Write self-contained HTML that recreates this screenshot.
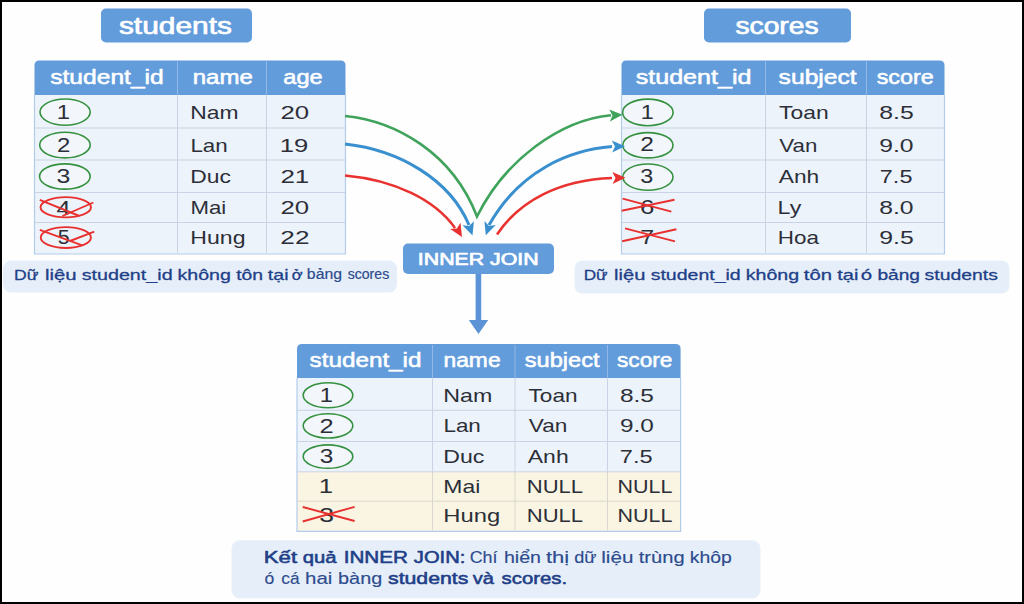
<!DOCTYPE html>
<html><head><meta charset="utf-8"><title>INNER JOIN</title>
<style>
html,body{margin:0;padding:0;background:#fff;}
svg{display:block;font-family:"Liberation Sans",sans-serif;}
</style></head>
<body>
<svg width="1024" height="604" viewBox="0 0 1024 604">
<rect x="0" y="0" width="1024" height="604" rx="0" fill="#000"/>
<rect x="2" y="2" width="1020" height="600" rx="0" fill="#fefefe"/>
<rect x="34.5" y="95" width="311.0" height="33" rx="0" fill="#edf3fb"/>
<rect x="34.5" y="128" width="311.0" height="32" rx="0" fill="#edf3fb"/>
<rect x="34.5" y="160" width="311.0" height="32.5" rx="0" fill="#edf3fb"/>
<rect x="34.5" y="192.5" width="311.0" height="30.0" rx="0" fill="#edf3fb"/>
<rect x="34.5" y="222.5" width="311.0" height="31.5" rx="0" fill="#edf3fb"/>
<path d="M34.5,95 L34.5,65.5 Q34.5,60.5 39.5,60.5 L340.5,60.5 Q345.5,60.5 345.5,65.5 L345.5,95 Z" fill="#639cdb"/>
<line x1="34.5" y1="128" x2="345.5" y2="128" stroke="#c9d3e3" stroke-width="1"/>
<line x1="34.5" y1="160" x2="345.5" y2="160" stroke="#c9d3e3" stroke-width="1"/>
<line x1="34.5" y1="192.5" x2="345.5" y2="192.5" stroke="#c9d3e3" stroke-width="1"/>
<line x1="34.5" y1="222.5" x2="345.5" y2="222.5" stroke="#c9d3e3" stroke-width="1"/>
<line x1="177.5" y1="61.5" x2="177.5" y2="95" stroke="#93b7e6" stroke-width="1"/>
<line x1="177.5" y1="95" x2="177.5" y2="253" stroke="#c9d3e3" stroke-width="1"/>
<line x1="266.5" y1="61.5" x2="266.5" y2="95" stroke="#93b7e6" stroke-width="1"/>
<line x1="266.5" y1="95" x2="266.5" y2="253" stroke="#c9d3e3" stroke-width="1"/>
<path d="M34.5,95 L34.5,254 L345.5,254 L345.5,95" fill="none" stroke="#b4cbe9" stroke-width="1.2"/>
<rect x="621.5" y="95" width="323.0" height="33" rx="0" fill="#edf3fb"/>
<rect x="621.5" y="128" width="323.0" height="32" rx="0" fill="#edf3fb"/>
<rect x="621.5" y="160" width="323.0" height="32.5" rx="0" fill="#edf3fb"/>
<rect x="621.5" y="192.5" width="323.0" height="30.0" rx="0" fill="#edf3fb"/>
<rect x="621.5" y="222.5" width="323.0" height="31.5" rx="0" fill="#edf3fb"/>
<path d="M621.5,95 L621.5,65.5 Q621.5,60.5 626.5,60.5 L939.5,60.5 Q944.5,60.5 944.5,65.5 L944.5,95 Z" fill="#639cdb"/>
<line x1="621.5" y1="128" x2="944.5" y2="128" stroke="#c9d3e3" stroke-width="1"/>
<line x1="621.5" y1="160" x2="944.5" y2="160" stroke="#c9d3e3" stroke-width="1"/>
<line x1="621.5" y1="192.5" x2="944.5" y2="192.5" stroke="#c9d3e3" stroke-width="1"/>
<line x1="621.5" y1="222.5" x2="944.5" y2="222.5" stroke="#c9d3e3" stroke-width="1"/>
<line x1="765.5" y1="61.5" x2="765.5" y2="95" stroke="#93b7e6" stroke-width="1"/>
<line x1="765.5" y1="95" x2="765.5" y2="253" stroke="#c9d3e3" stroke-width="1"/>
<line x1="866.5" y1="61.5" x2="866.5" y2="95" stroke="#93b7e6" stroke-width="1"/>
<line x1="866.5" y1="95" x2="866.5" y2="253" stroke="#c9d3e3" stroke-width="1"/>
<path d="M621.5,95 L621.5,254 L944.5,254 L944.5,95" fill="none" stroke="#b4cbe9" stroke-width="1.2"/>
<rect x="297" y="378" width="383.6" height="32.30000000000001" rx="0" fill="#edf3fb"/>
<rect x="297" y="410.3" width="383.6" height="31.19999999999999" rx="0" fill="#edf3fb"/>
<rect x="297" y="441.5" width="383.6" height="30.30000000000001" rx="0" fill="#edf3fb"/>
<rect x="297" y="471.8" width="383.6" height="29.399999999999977" rx="0" fill="#faf5e3"/>
<rect x="297" y="501.2" width="383.6" height="30.099999999999966" rx="0" fill="#faf5e3"/>
<path d="M297,378 L297,349 Q297,344 302,344 L675.6,344 Q680.6,344 680.6,349 L680.6,378 Z" fill="#639cdb"/>
<line x1="297" y1="410.3" x2="680.6" y2="410.3" stroke="#c9d3e3" stroke-width="1"/>
<line x1="297" y1="441.5" x2="680.6" y2="441.5" stroke="#c9d3e3" stroke-width="1"/>
<line x1="297" y1="471.8" x2="680.6" y2="471.8" stroke="#c9d3e3" stroke-width="1"/>
<line x1="297" y1="501.2" x2="680.6" y2="501.2" stroke="#d9d8cf" stroke-width="1"/>
<line x1="432.5" y1="345" x2="432.5" y2="378" stroke="#93b7e6" stroke-width="1"/>
<line x1="432.5" y1="378" x2="432.5" y2="471.8" stroke="#c9d3e3" stroke-width="1"/>
<line x1="432.5" y1="471.8" x2="432.5" y2="530.3" stroke="#d9d8cf" stroke-width="1"/>
<line x1="515" y1="345" x2="515" y2="378" stroke="#93b7e6" stroke-width="1"/>
<line x1="515" y1="378" x2="515" y2="471.8" stroke="#c9d3e3" stroke-width="1"/>
<line x1="515" y1="471.8" x2="515" y2="530.3" stroke="#d9d8cf" stroke-width="1"/>
<line x1="607.5" y1="345" x2="607.5" y2="378" stroke="#93b7e6" stroke-width="1"/>
<line x1="607.5" y1="378" x2="607.5" y2="471.8" stroke="#c9d3e3" stroke-width="1"/>
<line x1="607.5" y1="471.8" x2="607.5" y2="530.3" stroke="#d9d8cf" stroke-width="1"/>
<path d="M297,378 L297,531.3 L680.6,531.3 L680.6,378" fill="none" stroke="#b4cbe9" stroke-width="1.2"/>
<rect x="101" y="8.5" width="151" height="34" rx="5" fill="#639cdb"/>
<rect x="704" y="8.5" width="147" height="34" rx="5" fill="#639cdb"/>
<rect x="403" y="243.5" width="151" height="30.5" rx="5" fill="#639cdb"/>
<rect x="3" y="260.6" width="394" height="32" rx="8" fill="#e6eff9"/>
<rect x="574.5" y="260.5" width="435" height="33" rx="8" fill="#e6eff9"/>
<rect x="231.5" y="540.3" width="529" height="58" rx="8" fill="#e6eff9"/>
<text x="118.95" y="33.80" font-size="23.6" font-weight="normal" fill="#ffffff" textLength="112.95" lengthAdjust="spacingAndGlyphs" stroke="#ffffff" stroke-width="0.7" stroke-linejoin="round">students</text>
<text x="735.40" y="33.80" font-size="24.5" font-weight="normal" fill="#ffffff" textLength="83.25" lengthAdjust="spacingAndGlyphs" stroke="#ffffff" stroke-width="0.7" stroke-linejoin="round">scores</text>
<text x="417.83" y="265.20" font-size="16.8" font-weight="normal" fill="#ffffff" textLength="120.77" lengthAdjust="spacingAndGlyphs" stroke="#ffffff" stroke-width="0.7" stroke-linejoin="round">INNER JOIN</text>
<text x="50.24" y="83.90" font-size="20.5" font-weight="normal" fill="#ffffff" textLength="113.48" lengthAdjust="spacingAndGlyphs" stroke="#ffffff" stroke-width="0.55" stroke-linejoin="round">student_id</text>
<text x="192.71" y="84.00" font-size="20.5" font-weight="normal" fill="#ffffff" textLength="60.13" lengthAdjust="spacingAndGlyphs" stroke="#ffffff" stroke-width="0.55" stroke-linejoin="round">name</text>
<text x="283.33" y="84.00" font-size="20.5" font-weight="normal" fill="#ffffff" textLength="39.34" lengthAdjust="spacingAndGlyphs" stroke="#ffffff" stroke-width="0.55" stroke-linejoin="round">age</text>
<text x="635.72" y="84.00" font-size="20.5" font-weight="normal" fill="#ffffff" textLength="115.73" lengthAdjust="spacingAndGlyphs" stroke="#ffffff" stroke-width="0.55" stroke-linejoin="round">student_id</text>
<text x="778.64" y="84.00" font-size="20.5" font-weight="normal" fill="#ffffff" textLength="78.10" lengthAdjust="spacingAndGlyphs" stroke="#ffffff" stroke-width="0.55" stroke-linejoin="round">subject</text>
<text x="876.68" y="84.00" font-size="20.5" font-weight="normal" fill="#ffffff" textLength="57.01" lengthAdjust="spacingAndGlyphs" stroke="#ffffff" stroke-width="0.55" stroke-linejoin="round">score</text>
<text x="309.55" y="366.60" font-size="20.5" font-weight="normal" fill="#ffffff" textLength="111.95" lengthAdjust="spacingAndGlyphs" stroke="#ffffff" stroke-width="0.55" stroke-linejoin="round">student_id</text>
<text x="443.49" y="366.60" font-size="20.5" font-weight="normal" fill="#ffffff" textLength="57.10" lengthAdjust="spacingAndGlyphs" stroke="#ffffff" stroke-width="0.55" stroke-linejoin="round">name</text>
<text x="524.77" y="366.60" font-size="20.5" font-weight="normal" fill="#ffffff" textLength="74.76" lengthAdjust="spacingAndGlyphs" stroke="#ffffff" stroke-width="0.55" stroke-linejoin="round">subject</text>
<text x="616.99" y="366.60" font-size="20.5" font-weight="normal" fill="#ffffff" textLength="55.46" lengthAdjust="spacingAndGlyphs" stroke="#ffffff" stroke-width="0.55" stroke-linejoin="round">score</text>
<text x="190.37" y="118.80" font-size="19" font-weight="normal" fill="#2c2f38" textLength="48.23" lengthAdjust="spacingAndGlyphs">Nam</text>
<text x="190.41" y="151.60" font-size="19" font-weight="normal" fill="#2c2f38" textLength="37.32" lengthAdjust="spacingAndGlyphs">Lan</text>
<text x="190.37" y="183.20" font-size="19" font-weight="normal" fill="#2c2f38" textLength="40.66" lengthAdjust="spacingAndGlyphs">Duc</text>
<text x="190.43" y="214.20" font-size="19" font-weight="normal" fill="#2c2f38" textLength="35.75" lengthAdjust="spacingAndGlyphs">Mai</text>
<text x="190.35" y="244.20" font-size="19" font-weight="normal" fill="#2c2f38" textLength="55.16" lengthAdjust="spacingAndGlyphs">Hung</text>
<text x="280.41" y="118.80" font-size="19" font-weight="normal" fill="#2c2f38" textLength="28.65" lengthAdjust="spacingAndGlyphs">20</text>
<text x="279.78" y="151.60" font-size="19" font-weight="normal" fill="#2c2f38" textLength="28.43" lengthAdjust="spacingAndGlyphs">19</text>
<text x="280.40" y="183.20" font-size="19" font-weight="normal" fill="#2c2f38" textLength="28.93" lengthAdjust="spacingAndGlyphs">21</text>
<text x="280.41" y="214.20" font-size="19" font-weight="normal" fill="#2c2f38" textLength="28.65" lengthAdjust="spacingAndGlyphs">20</text>
<text x="280.39" y="244.20" font-size="19" font-weight="normal" fill="#2c2f38" textLength="29.08" lengthAdjust="spacingAndGlyphs">22</text>
<text x="779.04" y="119.30" font-size="19" font-weight="normal" fill="#2c2f38" textLength="49.63" lengthAdjust="spacingAndGlyphs">Toan</text>
<text x="779.39" y="151.60" font-size="19" font-weight="normal" fill="#2c2f38" textLength="38.07" lengthAdjust="spacingAndGlyphs">Van</text>
<text x="778.80" y="183.20" font-size="19" font-weight="normal" fill="#2c2f38" textLength="40.46" lengthAdjust="spacingAndGlyphs">Anh</text>
<text x="777.64" y="213.60" font-size="19" font-weight="normal" fill="#2c2f38" textLength="23.63" lengthAdjust="spacingAndGlyphs">Ly</text>
<text x="777.70" y="243.50" font-size="19" font-weight="normal" fill="#2c2f38" textLength="41.19" lengthAdjust="spacingAndGlyphs">Hoa</text>
<text x="879.29" y="119.30" font-size="19" font-weight="normal" fill="#2c2f38" textLength="34.41" lengthAdjust="spacingAndGlyphs">8.5</text>
<text x="879.29" y="151.60" font-size="19" font-weight="normal" fill="#2c2f38" textLength="34.28" lengthAdjust="spacingAndGlyphs">9.0</text>
<text x="879.83" y="183.20" font-size="19" font-weight="normal" fill="#2c2f38" textLength="32.62" lengthAdjust="spacingAndGlyphs">7.5</text>
<text x="879.29" y="213.60" font-size="19" font-weight="normal" fill="#2c2f38" textLength="34.28" lengthAdjust="spacingAndGlyphs">8.0</text>
<text x="879.29" y="243.50" font-size="19" font-weight="normal" fill="#2c2f38" textLength="34.41" lengthAdjust="spacingAndGlyphs">9.5</text>
<text x="443.34" y="401.70" font-size="19" font-weight="normal" fill="#2c2f38" textLength="48.98" lengthAdjust="spacingAndGlyphs">Nam</text>
<text x="443.41" y="432.20" font-size="19" font-weight="normal" fill="#2c2f38" textLength="37.43" lengthAdjust="spacingAndGlyphs">Lan</text>
<text x="443.35" y="462.80" font-size="19" font-weight="normal" fill="#2c2f38" textLength="41.09" lengthAdjust="spacingAndGlyphs">Duc</text>
<text x="443.37" y="493.40" font-size="19" font-weight="normal" fill="#2c2f38" textLength="36.96" lengthAdjust="spacingAndGlyphs">Mai</text>
<text x="443.30" y="522.10" font-size="19" font-weight="normal" fill="#2c2f38" textLength="56.87" lengthAdjust="spacingAndGlyphs">Hung</text>
<text x="528.55" y="401.70" font-size="19" font-weight="normal" fill="#2c2f38" textLength="49.00" lengthAdjust="spacingAndGlyphs">Toan</text>
<text x="528.89" y="432.20" font-size="19" font-weight="normal" fill="#2c2f38" textLength="38.59" lengthAdjust="spacingAndGlyphs">Van</text>
<text x="527.80" y="462.80" font-size="19" font-weight="normal" fill="#2c2f38" textLength="40.88" lengthAdjust="spacingAndGlyphs">Anh</text>
<text x="526.74" y="493.40" font-size="19" font-weight="normal" fill="#2c2f38" textLength="56.36" lengthAdjust="spacingAndGlyphs">NULL</text>
<text x="526.74" y="522.10" font-size="19" font-weight="normal" fill="#2c2f38" textLength="56.36" lengthAdjust="spacingAndGlyphs">NULL</text>
<text x="619.90" y="401.70" font-size="19" font-weight="normal" fill="#2c2f38" textLength="33.98" lengthAdjust="spacingAndGlyphs">8.5</text>
<text x="619.90" y="432.20" font-size="19" font-weight="normal" fill="#2c2f38" textLength="33.85" lengthAdjust="spacingAndGlyphs">9.0</text>
<text x="619.82" y="462.80" font-size="19" font-weight="normal" fill="#2c2f38" textLength="32.83" lengthAdjust="spacingAndGlyphs">7.5</text>
<text x="617.48" y="493.40" font-size="19" font-weight="normal" fill="#2c2f38" textLength="54.90" lengthAdjust="spacingAndGlyphs">NULL</text>
<text x="617.48" y="522.10" font-size="19" font-weight="normal" fill="#2c2f38" textLength="54.90" lengthAdjust="spacingAndGlyphs">NULL</text>
<ellipse cx="65.1" cy="112.1" rx="25.1" ry="13.1" fill="#f3f7fb" stroke="#35913f" stroke-width="1.6"/>
<ellipse cx="64.95" cy="145.1" rx="25.25" ry="12.8" fill="#f3f7fb" stroke="#35913f" stroke-width="1.6"/>
<ellipse cx="64.85" cy="176.5" rx="25.3" ry="12.6" fill="#f3f7fb" stroke="#35913f" stroke-width="1.6"/>
<ellipse cx="647.85" cy="112.4" rx="25.25" ry="13.3" fill="#f3f7fb" stroke="#35913f" stroke-width="1.6"/>
<ellipse cx="647.9" cy="145.25" rx="25.1" ry="12.65" fill="#f3f7fb" stroke="#35913f" stroke-width="1.6"/>
<ellipse cx="647.9" cy="177.1" rx="25.1" ry="13.1" fill="#f3f7fb" stroke="#35913f" stroke-width="1.6"/>
<ellipse cx="328" cy="395.3" rx="24.8" ry="12.5" fill="#f3f7fb" stroke="#35913f" stroke-width="1.6"/>
<ellipse cx="328" cy="425.85" rx="24.8" ry="12.15" fill="#f3f7fb" stroke="#35913f" stroke-width="1.6"/>
<ellipse cx="328" cy="456.6" rx="24.8" ry="11.7" fill="#f3f7fb" stroke="#35913f" stroke-width="1.6"/>
<text x="56.81" y="118.80" font-size="19.5" font-weight="normal" fill="#2c2f38" textLength="13.30" lengthAdjust="spacingAndGlyphs">1</text>
<text x="56.90" y="151.50" font-size="19.5" font-weight="normal" fill="#2c2f38" textLength="13.32" lengthAdjust="spacingAndGlyphs">2</text>
<text x="56.61" y="183.30" font-size="19.5" font-weight="normal" fill="#2c2f38" textLength="13.82" lengthAdjust="spacingAndGlyphs">3</text>
<text x="56.59" y="214.60" font-size="19.5" font-weight="normal" fill="#2c2f38" textLength="14.10" lengthAdjust="spacingAndGlyphs">4</text>
<text x="57.74" y="244.30" font-size="19.5" font-weight="normal" fill="#2c2f38" textLength="11.94" lengthAdjust="spacingAndGlyphs">5</text>
<text x="640.84" y="119.10" font-size="19.5" font-weight="normal" fill="#2c2f38" textLength="13.04" lengthAdjust="spacingAndGlyphs">1</text>
<text x="640.27" y="151.30" font-size="19.5" font-weight="normal" fill="#2c2f38" textLength="13.69" lengthAdjust="spacingAndGlyphs">2</text>
<text x="640.27" y="182.70" font-size="19.5" font-weight="normal" fill="#2c2f38" textLength="13.00" lengthAdjust="spacingAndGlyphs">3</text>
<text x="639.91" y="213.90" font-size="19.5" font-weight="normal" fill="#2c2f38" textLength="14.35" lengthAdjust="spacingAndGlyphs">6</text>
<text x="640.35" y="243.60" font-size="19.5" font-weight="normal" fill="#2c2f38" textLength="13.93" lengthAdjust="spacingAndGlyphs">7</text>
<text x="319.72" y="401.50" font-size="19.5" font-weight="normal" fill="#2c2f38" textLength="13.17" lengthAdjust="spacingAndGlyphs">1</text>
<text x="319.43" y="432.50" font-size="19.5" font-weight="normal" fill="#2c2f38" textLength="14.18" lengthAdjust="spacingAndGlyphs">2</text>
<text x="319.72" y="462.70" font-size="19.5" font-weight="normal" fill="#2c2f38" textLength="13.58" lengthAdjust="spacingAndGlyphs">3</text>
<text x="318.87" y="493.20" font-size="19.5" font-weight="normal" fill="#2c2f38" textLength="14.32" lengthAdjust="spacingAndGlyphs">1</text>
<text x="319.34" y="521.50" font-size="19.5" font-weight="normal" fill="#2c2f38" textLength="14.75" lengthAdjust="spacingAndGlyphs">3</text>
<ellipse cx="65.75" cy="207.25" rx="25.2" ry="10.1" fill="none" stroke="#e8312f" stroke-width="1.9"/>
<line x1="39.8" y1="199.9" x2="79.4" y2="216" stroke="#e8312f" stroke-width="1.9"/>
<line x1="62.4" y1="216" x2="93.4" y2="202.5" stroke="#e8312f" stroke-width="1.9"/>
<ellipse cx="65.85" cy="237.55" rx="25.1" ry="10.4" fill="none" stroke="#e8312f" stroke-width="1.9"/>
<line x1="39.8" y1="229.9" x2="82.3" y2="245.4" stroke="#e8312f" stroke-width="1.9"/>
<line x1="70" y1="241" x2="94.3" y2="231.7" stroke="#e8312f" stroke-width="1.9"/>
<line x1="622.6" y1="198.6" x2="671.3" y2="211.6" stroke="#e8312f" stroke-width="1.9"/>
<line x1="621.7" y1="210.7" x2="674.5" y2="199.7" stroke="#e8312f" stroke-width="1.9"/>
<line x1="625" y1="228.3" x2="675" y2="241.3" stroke="#e8312f" stroke-width="1.9"/>
<line x1="622.2" y1="241.3" x2="676.4" y2="229.2" stroke="#e8312f" stroke-width="1.9"/>
<line x1="302.7" y1="507" x2="354.6" y2="521" stroke="#e8312f" stroke-width="1.9"/>
<line x1="302.7" y1="521.5" x2="354.6" y2="506.8" stroke="#e8312f" stroke-width="1.9"/>
<path d="M345,116 C395,121 452,152 477,216.5 C505,160 560,120 611,115.2" stroke="#3fa35b" stroke-width="2.6" fill="none" stroke-linejoin="miter" stroke-miterlimit="6"/>
<path d="M622.5,114.8 L609.9,121.6 L612.5,115.4 L609.2,109.6 Z" fill="#3fa35b"/>
<path d="M345,144 C400,150 450,180 469,225" stroke="#3a90cf" stroke-width="3.0" fill="none"/>
<path d="M472.5,235.5 L462.5,225.2 L469.2,226.1 L473.9,221.2 Z" fill="#3a90cf"/>
<path d="M489,225 C520,170 570,150 612,146.6" stroke="#3a90cf" stroke-width="3.0" fill="none"/>
<path d="M625.0,146.2 L612.2,152.6 L615.0,146.5 L611.8,140.6 Z" fill="#3a90cf"/>
<path d="M485.8,235.3 L484.4,221.0 L489.1,225.9 L495.8,225.0 Z" fill="#3a90cf"/>
<path d="M345,175.5 C395,180 435,200 455,228" stroke="#e8322f" stroke-width="2.5" fill="none"/>
<path d="M462.0,237.0 L450.2,228.9 L456.9,228.4 L460.5,222.8 Z" fill="#e8322f"/>
<path d="M497,234.5 C520,200 560,180 612,178" stroke="#e8322f" stroke-width="2.5" fill="none"/>
<path d="M625.5,177.7 L612.6,184.0 L615.5,177.9 L612.4,172.0 Z" fill="#e8322f"/>
<rect x="475.6" y="274" width="5.6" height="47" rx="0" fill="#5b93d6"/>
<path d="M468.8,320 L488.2,320 L478.5,334 Z" fill="#5b93d6"/>
<text x="14.04" y="280.40" font-size="15.2" font-weight="normal" fill="#1f3f88" textLength="24.46" lengthAdjust="spacingAndGlyphs" stroke="#1f3f88" stroke-width="0.3" stroke-linejoin="round">Dữ</text>
<text x="44.93" y="280.40" font-size="15.2" font-weight="normal" fill="#1f3f88" textLength="31.68" lengthAdjust="spacingAndGlyphs" stroke="#1f3f88" stroke-width="0.3" stroke-linejoin="round">liệu</text>
<text x="81.66" y="280.40" font-size="15.2" font-weight="normal" fill="#1f3f88" textLength="90.97" lengthAdjust="spacingAndGlyphs" stroke="#1f3f88" stroke-width="0.3" stroke-linejoin="round">student_id</text>
<text x="177.48" y="280.40" font-size="15.2" font-weight="normal" fill="#1f3f88" textLength="53.44" lengthAdjust="spacingAndGlyphs" stroke="#1f3f88" stroke-width="0.3" stroke-linejoin="round">không</text>
<text x="236.16" y="280.40" font-size="15.2" font-weight="normal" fill="#1f3f88" textLength="26.95" lengthAdjust="spacingAndGlyphs" stroke="#1f3f88" stroke-width="0.3" stroke-linejoin="round">tôn</text>
<text x="267.86" y="280.40" font-size="15.2" font-weight="normal" fill="#1f3f88" textLength="20.69" lengthAdjust="spacingAndGlyphs" stroke="#1f3f88" stroke-width="0.3" stroke-linejoin="round">tại</text>
<text x="291.79" y="280.40" font-size="15.2" font-weight="normal" fill="#1f3f88" textLength="10.87" lengthAdjust="spacingAndGlyphs" stroke="#1f3f88" stroke-width="0.3" stroke-linejoin="round">ở</text>
<text x="306.87" y="279.40" font-size="14" font-weight="normal" fill="#2d4b8e" textLength="35.15" lengthAdjust="spacingAndGlyphs" stroke="#2d4b8e" stroke-width="0.2" stroke-linejoin="round">bảng</text>
<text x="347.68" y="279.40" font-size="14" font-weight="normal" fill="#2d4b8e" textLength="41.52" lengthAdjust="spacingAndGlyphs" stroke="#2d4b8e" stroke-width="0.2" stroke-linejoin="round">scores</text>
<text x="583.67" y="280.40" font-size="15.2" font-weight="normal" fill="#1f3f88" textLength="23.92" lengthAdjust="spacingAndGlyphs" stroke="#1f3f88" stroke-width="0.3" stroke-linejoin="round">Dữ</text>
<text x="614.04" y="280.40" font-size="15.2" font-weight="normal" fill="#1f3f88" textLength="31.35" lengthAdjust="spacingAndGlyphs" stroke="#1f3f88" stroke-width="0.3" stroke-linejoin="round">liệu</text>
<text x="650.66" y="280.40" font-size="15.2" font-weight="normal" fill="#1f3f88" textLength="90.05" lengthAdjust="spacingAndGlyphs" stroke="#1f3f88" stroke-width="0.3" stroke-linejoin="round">student_id</text>
<text x="745.68" y="280.40" font-size="15.2" font-weight="normal" fill="#1f3f88" textLength="53.44" lengthAdjust="spacingAndGlyphs" stroke="#1f3f88" stroke-width="0.3" stroke-linejoin="round">không</text>
<text x="803.75" y="280.40" font-size="15.2" font-weight="normal" fill="#1f3f88" textLength="28.23" lengthAdjust="spacingAndGlyphs" stroke="#1f3f88" stroke-width="0.3" stroke-linejoin="round">tôn</text>
<text x="837.15" y="280.40" font-size="15.2" font-weight="normal" fill="#1f3f88" textLength="21.23" lengthAdjust="spacingAndGlyphs" stroke="#1f3f88" stroke-width="0.3" stroke-linejoin="round">tại</text>
<text x="860.83" y="280.40" font-size="15.2" font-weight="normal" fill="#1f3f88" textLength="11.36" lengthAdjust="spacingAndGlyphs" stroke="#1f3f88" stroke-width="0.3" stroke-linejoin="round">ó</text>
<text x="877.41" y="280.40" font-size="15.2" font-weight="normal" fill="#1f3f88" textLength="42.58" lengthAdjust="spacingAndGlyphs" stroke="#1f3f88" stroke-width="0.3" stroke-linejoin="round">bảng</text>
<text x="924.57" y="280.40" font-size="15.2" font-weight="normal" fill="#1f3f88" textLength="73.27" lengthAdjust="spacingAndGlyphs" stroke="#1f3f88" stroke-width="0.3" stroke-linejoin="round">students</text>
<text x="263.80" y="562.60" font-size="16.2" font-weight="normal" fill="#1f3f88" textLength="33.36" lengthAdjust="spacingAndGlyphs" stroke="#1f3f88" stroke-width="0.55" stroke-linejoin="round">Kết</text>
<text x="302.87" y="562.60" font-size="16.2" font-weight="normal" fill="#1f3f88" textLength="33.73" lengthAdjust="spacingAndGlyphs" stroke="#1f3f88" stroke-width="0.55" stroke-linejoin="round">quả</text>
<text x="343.72" y="562.60" font-size="16.2" font-weight="normal" fill="#1f3f88" textLength="64.27" lengthAdjust="spacingAndGlyphs" stroke="#1f3f88" stroke-width="0.55" stroke-linejoin="round">INNER</text>
<text x="413.87" y="562.60" font-size="16.2" font-weight="normal" fill="#1f3f88" textLength="51.48" lengthAdjust="spacingAndGlyphs" stroke="#1f3f88" stroke-width="0.55" stroke-linejoin="round">JOIN:</text>
<text x="469.68" y="562.60" font-size="16.2" font-weight="normal" fill="#2d4b8e" textLength="27.87" lengthAdjust="spacingAndGlyphs" stroke="#2d4b8e" stroke-width="0.15" stroke-linejoin="round">Chí</text>
<text x="503.90" y="562.60" font-size="16.2" font-weight="normal" fill="#2d4b8e" textLength="37.11" lengthAdjust="spacingAndGlyphs" stroke="#2d4b8e" stroke-width="0.15" stroke-linejoin="round">hiển</text>
<text x="545.94" y="562.60" font-size="16.2" font-weight="normal" fill="#2d4b8e" textLength="23.34" lengthAdjust="spacingAndGlyphs" stroke="#2d4b8e" stroke-width="0.15" stroke-linejoin="round">thị</text>
<text x="574.25" y="562.60" font-size="16.2" font-weight="normal" fill="#2d4b8e" textLength="22.23" lengthAdjust="spacingAndGlyphs" stroke="#2d4b8e" stroke-width="0.15" stroke-linejoin="round">dữ</text>
<text x="601.23" y="562.60" font-size="16.2" font-weight="normal" fill="#2d4b8e" textLength="32.17" lengthAdjust="spacingAndGlyphs" stroke="#2d4b8e" stroke-width="0.15" stroke-linejoin="round">liệu</text>
<text x="638.77" y="562.60" font-size="16.2" font-weight="normal" fill="#2d4b8e" textLength="45.85" lengthAdjust="spacingAndGlyphs" stroke="#2d4b8e" stroke-width="0.15" stroke-linejoin="round">trùng</text>
<text x="689.71" y="562.60" font-size="16.2" font-weight="normal" fill="#2d4b8e" textLength="42.05" lengthAdjust="spacingAndGlyphs" stroke="#2d4b8e" stroke-width="0.15" stroke-linejoin="round">khôp</text>
<text x="264.57" y="584.40" font-size="16.2" font-weight="normal" fill="#2d4b8e" textLength="9.78" lengthAdjust="spacingAndGlyphs" stroke="#2d4b8e" stroke-width="0.15" stroke-linejoin="round">ó</text>
<text x="281.28" y="584.40" font-size="16.2" font-weight="normal" fill="#2d4b8e" textLength="18.26" lengthAdjust="spacingAndGlyphs" stroke="#2d4b8e" stroke-width="0.15" stroke-linejoin="round">cá</text>
<text x="305.14" y="584.40" font-size="16.2" font-weight="normal" fill="#2d4b8e" textLength="27.30" lengthAdjust="spacingAndGlyphs" stroke="#2d4b8e" stroke-width="0.15" stroke-linejoin="round">hai</text>
<text x="338.09" y="584.40" font-size="16.2" font-weight="normal" fill="#2d4b8e" textLength="44.12" lengthAdjust="spacingAndGlyphs" stroke="#2d4b8e" stroke-width="0.15" stroke-linejoin="round">bàng</text>
<text x="388.04" y="584.40" font-size="16.2" font-weight="normal" fill="#1f3f88" textLength="80.34" lengthAdjust="spacingAndGlyphs" stroke="#1f3f88" stroke-width="0.55" stroke-linejoin="round">students</text>
<text x="472.77" y="584.40" font-size="16.2" font-weight="normal" fill="#1f3f88" textLength="21.27" lengthAdjust="spacingAndGlyphs" stroke="#1f3f88" stroke-width="0.55" stroke-linejoin="round">và</text>
<text x="501.56" y="584.40" font-size="16.2" font-weight="normal" fill="#1f3f88" textLength="65.66" lengthAdjust="spacingAndGlyphs" stroke="#1f3f88" stroke-width="0.55" stroke-linejoin="round">scores.</text>
</svg>
</body></html>
